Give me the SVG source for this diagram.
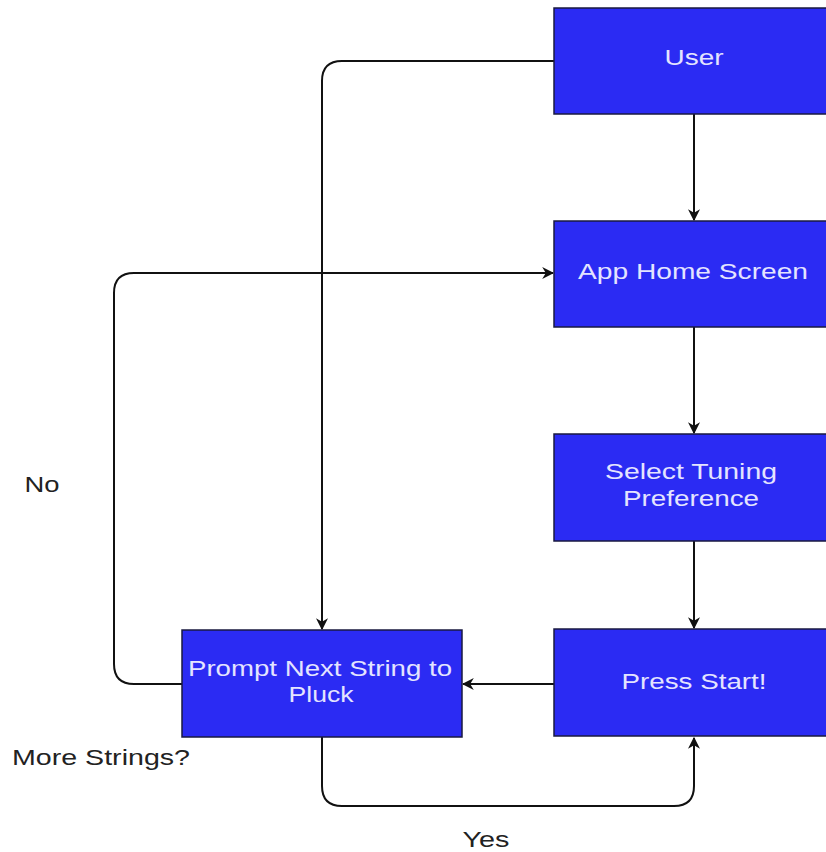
<svg xmlns="http://www.w3.org/2000/svg" width="826" height="852" viewBox="0 0 826 852">
<defs>
<style>
.box{fill:#2b2bf3;stroke:#1a1a40;stroke-width:1.5}
.bt{font-family:"Liberation Sans",Arial,sans-serif;font-size:22px;fill:#e4e4ff;text-anchor:middle}
.lb{font-family:"Liberation Sans",Arial,sans-serif;font-size:22px;fill:#222;text-anchor:middle}
.c{fill:none;stroke:#111;stroke-width:2}
</style>
<marker id="ah" viewBox="0 0 10 10" refX="9" refY="5" markerWidth="12" markerHeight="12" markerUnits="userSpaceOnUse" orient="auto">
<path d="M0,0 L10,5 L0,10 L3,5 Z" fill="#111"/>
</marker>
</defs>
<rect width="826" height="852" fill="#fff"/>
<g id="connectors">
<path class="c" d="M554,61 H342 Q322,61 322,81 V629" marker-end="url(#ah)"/>
<path class="c" d="M694,114 V220" marker-end="url(#ah)"/>
<path class="c" d="M694,327 V433" marker-end="url(#ah)"/>
<path class="c" d="M694,541 V628" marker-end="url(#ah)"/>
<path class="c" d="M554,684 H463" marker-end="url(#ah)"/>
<path class="c" d="M182,684 H134 Q114,684 114,664 V293 Q114,273 134,273 H553" marker-end="url(#ah)"/>
<path class="c" d="M322,737 V786 Q322,806 342,806 H674 Q694,806 694,786 V738" marker-end="url(#ah)"/>
</g>
<g id="user"><rect class="box" x="554" y="8" width="290" height="106"/><text class="bt" x="694" y="65" textLength="59" lengthAdjust="spacingAndGlyphs">User</text></g>
<g id="home"><rect class="box" x="554" y="221" width="290" height="106"/><text class="bt" x="693" y="279" textLength="230" lengthAdjust="spacingAndGlyphs">App Home Screen</text></g>
<g id="select"><rect class="box" x="554" y="434" width="290" height="107"/><text class="bt" x="691" y="479" textLength="172" lengthAdjust="spacingAndGlyphs">Select Tuning</text><text class="bt" x="691" y="506" textLength="136" lengthAdjust="spacingAndGlyphs">Preference</text></g>
<g id="start"><rect class="box" x="554" y="629" width="290" height="107"/><text class="bt" x="694" y="689" textLength="145" lengthAdjust="spacingAndGlyphs">Press Start!</text></g>
<g id="prompt"><rect class="box" x="182" y="630" width="280" height="107"/><text class="bt" x="320" y="676" textLength="264" lengthAdjust="spacingAndGlyphs">Prompt Next String to</text><text class="bt" x="321" y="702" textLength="65" lengthAdjust="spacingAndGlyphs">Pluck</text></g>
<g id="labels">
<text class="lb" x="42" y="492" textLength="35" lengthAdjust="spacingAndGlyphs">No</text>
<text class="lb" x="101" y="765" textLength="178" lengthAdjust="spacingAndGlyphs">More Strings?</text>
<text class="lb" x="486" y="847" textLength="47" lengthAdjust="spacingAndGlyphs">Yes</text>
</g>
</svg>
